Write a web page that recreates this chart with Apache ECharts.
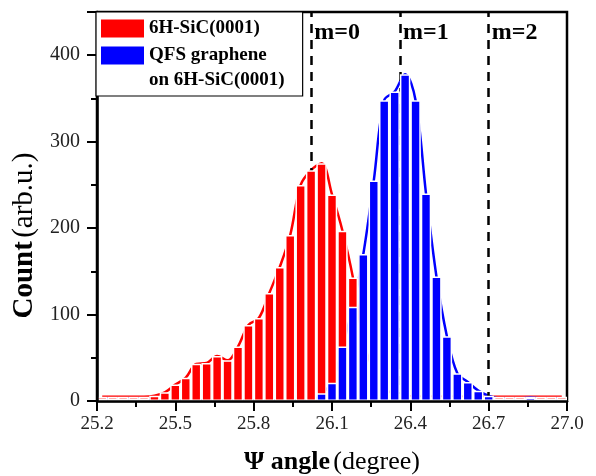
<!DOCTYPE html>
<html>
<head>
<meta charset="utf-8">
<script src="https://cdn.jsdelivr.net/npm/echarts@6/dist/echarts.min.js"></script>
<style>html,body{margin:0;padding:0;background:#fff;}#c{width:596px;height:476px;}</style>
</head>
<body>
<div id="c"></div>
<script>
// Bin centres (degree)
var binCenters = [25.22,25.26,25.30,25.34,25.38,25.42,25.46,25.50,25.54,25.58,25.62,25.66,25.70,25.74,25.78,25.82,25.86,25.90,25.94,25.98,26.02,26.06,26.10,26.14,26.18,26.22,26.26,26.30,26.34,26.38,26.42,26.46,26.50,26.54,26.58,26.62,26.66,26.70,26.74,26.78,26.82,26.86,26.90,26.94,26.98];
// 6H-SiC(0001) counts
var sicCounts = [5,5,5,5,5,6,10,19,27,43,44,52,47,63,88,96,125,155,192,250,267,275,239,197,143,70,35,15,8,6,5,5,5,5,5,5,5,5,5,5,5,5,5,5,5];
// QFS graphene on 6H-SiC(0001) counts
var qfsCounts = [3,3,3,3,3,0,0,0,0,0,0,0,0,0,0,0,0,0,0,0,0,9,21,63,109,170,255,348,358,378,348,240,144,75,32,22,12,6,3,3,3,4,3,3,3];
// order lines
var orderPositions = [26.02, 26.36, 26.70];
var orderLabels = ['m=0', 'm=1', 'm=2'];
var xTicks = [25.2, 27.0, 0.3];
var yTicks = [0, 450, 100];
var seriesNames = ['6H-SiC(0001)', 'QFS graphene on 6H-SiC(0001)'];

var FONT = 'Liberation Serif';
function pairs(vals){ return binCenters.map(function(x,i){ return [x, vals[i]]; }); }

var chart = echarts.init(document.getElementById('c'), null, {renderer:'canvas'});
var option = {
  animation: false,
  backgroundColor: '#fff',
  grid: {left: 97, right: 29, top: 12, bottom: 75, containLabel: false, outerBoundsMode: 'none', show: true, borderColor: '#000', borderWidth: 2.5, backgroundColor: 'transparent'},
  legend: {
    orient: 'vertical', left: 96, top: 12,
    padding: [4, 18, 3, 5],
    itemWidth: 43, itemHeight: 18, itemGap: -23,
    borderColor: '#000', borderWidth: 1.2, backgroundColor: '#fff',
    textStyle: {fontFamily: FONT, fontWeight: 'bold', fontSize: 19, lineHeight: 25, color: '#000'},
    itemStyle: {borderWidth: 0},
    data: [
      {name: seriesNames[0], icon: 'rect'},
      {name: seriesNames[1], icon: 'rect'}
    ],
    formatter: function(n){ return n.indexOf(' on ') > 0 ? '\n' + n.replace(' on ', '\non ') : n; },
    z: 30
  },
  xAxis: {
    type: 'value', min: xTicks[0], max: xTicks[1], interval: xTicks[2], z: 20,
    name: '{b|Ψ angle} {r|(degree)}', nameLocation: 'middle', nameGap: 48,
    nameTextStyle: {rich: {b: {fontFamily: FONT, fontWeight: 'bold', fontSize: 26, color: '#000'}, r: {fontFamily: FONT, fontSize: 26, color: '#000'}}},
    axisLine: {lineStyle: {color: '#000', width: 2.5}},
    axisTick: {inside: false, length: 10, lineStyle: {color: '#000', width: 2}},
    minorTick: {show: true, splitNumber: 2, length: 6, lineStyle: {color: '#000', width: 2}},
    axisLabel: {fontFamily: FONT, fontSize: 19, color: '#222', margin: 14, formatter: function(v){ return v.toFixed(1); }},
    splitLine: {show: false}
  },
  yAxis: {
    type: 'value', min: yTicks[0], max: yTicks[1], interval: yTicks[2], z: 20,
    name: '{b|Count} {r|(arb.u.)}', nameLocation: 'middle', nameGap: 55,
    nameTextStyle: {padding: [0, 58, 0, 0], rich: {b: {fontFamily: FONT, fontWeight: 'bold', fontSize: 29, color: '#000'}, r: {fontFamily: FONT, fontSize: 29, color: '#000'}}},
    axisLine: {show: true, lineStyle: {color: '#000', width: 2.5}},
    axisTick: {inside: false, length: 10, lineStyle: {color: '#000', width: 2}},
    minorTick: {show: true, splitNumber: 2, length: 6, lineStyle: {color: '#000', width: 2}},
    axisLabel: {fontFamily: FONT, fontSize: 20, color: '#222', margin: 17, formatter: function(v){ return v % 100 === 0 ? String(v) : ''; }},
    splitLine: {show: false}
  },
  series: [
    {
      name: 'sicCurve', type: 'line', z: 1, smooth: 0.35, symbol: 'none', silent: true,
      lineStyle: {color: '#ff0000', width: 2.5},
      data: pairs(sicCounts),
      markLine: {
        silent: true, z: 2, symbol: ['none', 'none'],
        lineStyle: {color: '#000', type: [9, 7], width: 2.5},
        label: {show: true, position: 'end', distance: 0, offset: [26, 33], fontFamily: FONT, fontWeight: 'bold', fontSize: 24, color: '#000',
          formatter: function(p){ return orderLabels[p.dataIndex]; }},
        data: orderPositions.map(function(x){ return {xAxis: x}; })
      }
    },
    {
      name: 'qfsCurve', type: 'line', z: 1, smooth: 0.35, symbol: 'none', silent: true,
      lineStyle: {color: '#0000ff', width: 2.5},
      data: pairs(qfsCounts)
    },
    {
      name: seriesNames[0], type: 'bar', z: 10, barWidth: 10.44, barGap: '-100%',
      itemStyle: {color: '#ff0000', borderColor: '#fff', borderWidth: 1.5},
      data: pairs(sicCounts)
    },
    {
      name: seriesNames[1], type: 'bar', z: 11, barWidth: 10.44, barGap: '-100%',
      itemStyle: {color: '#0000ff', borderColor: '#fff', borderWidth: 1.5},
      data: pairs(qfsCounts)
    }
  ]
};
chart.setOption(option);
</script>
</body>
</html>
